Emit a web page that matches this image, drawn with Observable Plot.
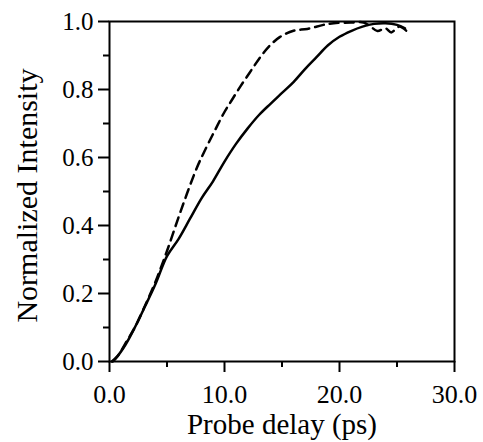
<!DOCTYPE html>
<html>
<head>
<meta charset="utf-8">
<script src="https://cdn.jsdelivr.net/npm/d3@7"></script>
<script src="https://cdn.jsdelivr.net/npm/@observablehq/plot@0.6"></script>
<style>
  html, body { margin: 0; padding: 0; background: #fff; }
</style>
</head>
<body>
<div id="chart"></div>
<script>
// Solid curve
const solidX = [0.2, 0.7, 1.4, 2.2, 3.1, 4.0, 5.0, 6.0, 7.0, 8.0, 9.0, 10.0, 11.0, 12.0, 13.0, 14.0, 15.0, 16.0, 17.0, 18.0, 19.0, 20.0, 21.0, 22.0, 23.0, 24.0, 25.0, 25.7];
const solidY = [0.0, 0.016, 0.05, 0.1, 0.163, 0.228, 0.31, 0.36, 0.42, 0.48, 0.53, 0.588, 0.64, 0.685, 0.725, 0.758, 0.79, 0.822, 0.86, 0.895, 0.93, 0.955, 0.972, 0.985, 0.993, 0.995, 0.99, 0.98];
// Dashed curve
const dashX = [0.3, 0.8, 1.5, 2.2, 3.1, 4.0, 5.0, 6.2, 7.6, 8.5, 9.2, 9.9, 10.6, 11.4, 12.2, 13.0, 13.8, 14.8, 16.0, 17.2, 18.6, 19.5, 21.0, 22.1, 22.7, 23.3, 24.0, 24.5, 25.2, 25.9];
const dashY = [0.0, 0.02, 0.06, 0.1, 0.165, 0.235, 0.325, 0.443, 0.57, 0.635, 0.682, 0.728, 0.767, 0.81, 0.85, 0.89, 0.924, 0.954, 0.973, 0.978, 0.99, 0.995, 0.997, 0.997, 0.985, 0.972, 0.98, 0.968, 0.985, 0.97];
// Ticks
const xMajor = [0, 10, 20, 30];
const xMinor = [5, 15, 25];
const yMajor = [0, 0.2, 0.4, 0.6, 0.8, 1.0];
const yMinor = [0.1, 0.3, 0.5, 0.7, 0.9];
const xTitle = "Probe delay (ps)";
const yTitle = "Normalized Intensity";

const solid = solidX.map((x, i) => ({x, y: solidY[i]}));
const dashed = dashX.map((x, i) => ({x, y: dashY[i]}));
const fmt = d3.format(".1f");
const serif = "Liberation Serif, Times New Roman, serif";

const chart = Plot.plot({
  width: 483,
  height: 442,
  marginLeft: 109,
  marginRight: 29,
  marginTop: 21,
  marginBottom: 81,
  style: "font-family: 'Liberation Serif', 'Times New Roman', serif; background: #fff; color: #000;",
  x: {domain: [0, 30]},
  y: {domain: [0, 1]},
  marks: [
    Plot.axisX({ticks: xMinor, tickSize: 6, tickFormat: () => "", label: null, strokeWidth: 2}),
    Plot.axisX({ticks: xMajor, tickSize: 11, tickPadding: 12, tickFormat: fmt, label: null, strokeWidth: 2, fontSize: 26, fontFamily: serif}),
    Plot.axisY({ticks: yMinor, tickSize: 6, tickFormat: () => "", label: null, strokeWidth: 2}),
    Plot.axisY({ticks: yMajor, tickSize: 11, tickPadding: 5, tickFormat: fmt, label: null, strokeWidth: 2, fontSize: 25, fontFamily: serif}),
    Plot.frame({strokeWidth: 2, stroke: "#000"}),
    Plot.line(solid, {x: "x", y: "y", stroke: "#000", strokeWidth: 2.5, curve: "catmull-rom"}),
    Plot.line(dashed, {x: "x", y: "y", stroke: "#000", strokeWidth: 2.5, strokeDasharray: "9,6", curve: "catmull-rom"}),
    Plot.text([xTitle], {text: d => d, frameAnchor: "bottom", lineAnchor: "middle", textAnchor: "middle", dy: 63, fontSize: 29, fill: "#000", fontFamily: serif}),
    Plot.text([yTitle], {text: d => d, frameAnchor: "left", rotate: -90, textAnchor: "middle", lineAnchor: "middle", dx: -82, dy: 4, fontSize: 30, fill: "#000", fontFamily: serif})
  ]
});
document.getElementById("chart").appendChild(chart);
</script>
</body>
</html>
